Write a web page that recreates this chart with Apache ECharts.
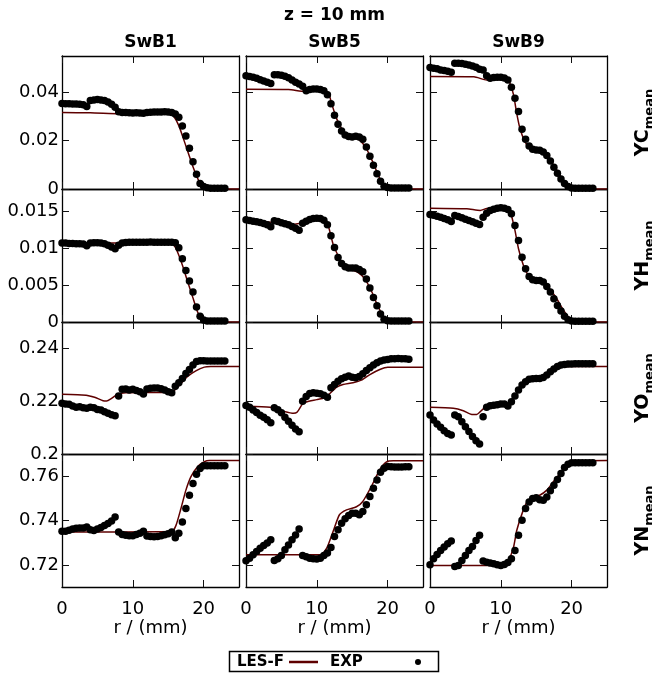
<!DOCTYPE html>
<html><head><meta charset="utf-8">
<script src="https://cdn.jsdelivr.net/npm/echarts@6/dist/echarts.min.js"></script>
<style>html,body{margin:0;padding:0;background:#fff}#c{width:652px;height:673px}</style>
</head><body><div id="c"></div>
<script>
// ---------- data ----------
const CASES = ['SwB1', 'SwB5', 'SwB9'];
const QUANTITIES = ['YC', 'YH', 'YO', 'YN'];
const X_TICKS = [0, 10, 20];
const Y_RANGES = [[0, 0.055], [0, 0.018], [0.2, 0.25], [0.71, 0.77]];
const Y_TICKS = [[0, 0.02, 0.04], [0, 0.005, 0.01, 0.015], [0.2, 0.22, 0.24], [0.72, 0.74, 0.76]];

const R_EXP = [0,0.5,1,1.5,2,2.5,3,3.5, 4,4.5,5,5.5,6,6.5,7,7.5, 8,8.5,9,9.5,10,10.5,11,11.5,
  12,12.5,13,13.5,14,14.5,15,15.5, 16,16.5,17,17.5,18,18.5,19,19.5, 20,20.5,21,21.5,22,22.5,23];

const YC_SWB1_EXP = [
0.0354,0.0353,0.0353,0.0352,0.0352,0.0350,0.0348,0.0341,
0.0366,0.0368,0.0370,0.0368,0.0366,0.0360,0.0350,0.0338,
0.0319,0.0316,0.0316,0.0315,0.0314,0.0315,0.0314,0.0313,
0.0316,0.0317,0.0318,0.0318,0.0318,0.0319,0.0318,0.0316,
0.0310,0.0297,0.0261,0.0219,0.0168,0.0113,0.0061,0.0023,
0.0010,0.0005,0.0003,0.0003,0.0003,0.0003,0.0003];
const YH_SWB1_EXP = [
0.01068,0.01068,0.01063,0.01063,0.01059,0.01059,0.01054,0.01032,
0.01068,0.01072,0.01072,0.01068,0.01059,0.01040,0.01014,0.00991,
0.01040,0.01068,0.01077,0.01081,0.01081,0.01081,0.01080,0.01081,
0.01081,0.01082,0.01081,0.01081,0.01081,0.01080,0.01081,0.01081,
0.01072,0.01005,0.00856,0.00698,0.00554,0.00405,0.00203,0.00077,
0.00027,0.00014,0.00014,0.00014,0.00014,0.00014,0.00014];
const YO_SWB1_EXP = [
0.2192,0.2189,0.2188,0.2182,0.2177,0.2179,0.2175,0.2173,
0.2177,0.2175,0.2169,0.2167,0.2160,0.2154,0.2149,0.2145,
0.2220,0.2245,0.2246,0.2242,0.2245,0.2241,0.2236,0.2227,
0.2246,0.2249,0.2250,0.2250,0.2247,0.2242,0.2236,0.2232,
0.2257,0.2270,0.2286,0.2305,0.2320,0.2337,0.2350,0.2353,
0.2353,0.2352,0.2352,0.2352,0.2352,0.2352,0.2352];
const YN_SWB1_EXP = [
0.7351,0.7351,0.7356,0.7362,0.7365,0.7366,0.7366,0.7371,
0.7358,0.7355,0.7362,0.7368,0.7378,0.7386,0.7398,0.7416,
0.7348,0.7337,0.7333,0.7331,0.7331,0.7337,0.7343,0.7351,
0.7330,0.7328,0.7327,0.7328,0.7331,0.7336,0.7340,0.7348,
0.7322,0.7343,0.7393,0.7454,0.7514,0.7567,0.7609,0.7635,
0.7647,0.7647,0.7647,0.7647,0.7647,0.7647,0.7647];

const YC_SWB5_EXP = [
0.0468,0.0465,0.0462,0.0458,0.0452,0.0447,0.0441,0.0436,
0.0472,0.0472,0.0470,0.0466,0.0460,0.0451,0.0441,0.0434,
0.0425,0.0406,0.0411,0.0414,0.0414,0.0411,0.0406,0.0390,
0.0353,0.0305,0.0268,0.0240,0.0223,0.0217,0.0215,0.0218,
0.0215,0.0206,0.0174,0.0135,0.0098,0.0063,0.0032,0.0011,
0.0006,0.0004,0.0004,0.0004,0.0004,0.0004,0.0004];
const YH_SWB5_EXP = [
0.01383,0.01374,0.01365,0.01356,0.01347,0.01333,0.01315,0.01288,
0.01369,0.01360,0.01342,0.01329,0.01315,0.01293,0.01270,0.01243,
0.01338,0.01365,0.01387,0.01401,0.01405,0.01401,0.01378,0.01315,
0.01167,0.01009,0.00874,0.00793,0.00748,0.00730,0.00730,0.00730,
0.00712,0.00680,0.00581,0.00459,0.00333,0.00221,0.00108,0.00036,
0.00018,0.00014,0.00014,0.00014,0.00014,0.00014,0.00014];
const YO_SWB5_EXP = [
0.2184,0.2177,0.2167,0.2157,0.2147,0.2139,0.2130,0.2118,
0.2175,0.2168,0.2156,0.2139,0.2124,0.2109,0.2095,0.2084,
0.2200,0.2218,0.2229,0.2232,0.2230,0.2228,0.2223,0.2215,
0.2251,0.2263,0.2276,0.2285,0.2291,0.2295,0.2291,0.2289,
0.2294,0.2304,0.2316,0.2327,0.2337,0.2346,0.2352,0.2356,
0.2358,0.2361,0.2361,0.2362,0.2361,0.2361,0.2359];
const YN_SWB5_EXP = [
0.7218,0.7230,0.7245,0.7260,0.7275,0.7287,0.7298,0.7313,
0.7220,0.7227,0.7242,0.7268,0.7290,0.7313,0.7335,0.7362,
0.7242,0.7236,0.7230,0.7227,0.7226,0.7230,0.7242,0.7253,
0.7278,0.7328,0.7358,0.7388,0.7408,0.7423,0.7433,0.7433,
0.7426,0.7441,0.7471,0.7508,0.7546,0.7583,0.7618,0.7636,
0.7644,0.7643,0.7641,0.7641,0.7641,0.7642,0.7642];

const YC_SWB9_EXP = [
0.0502,0.0499,0.0497,0.0492,0.0490,0.0487,0.0483,0.0520,
0.0520,0.0519,0.0516,0.0513,0.0509,0.0503,0.0495,0.0492,
0.0468,0.0458,0.0461,0.0462,0.0462,0.0459,0.0451,0.0421,
0.0375,0.0320,0.0247,0.0206,0.0178,0.0164,0.0161,0.0160,
0.0153,0.0139,0.0116,0.0090,0.0065,0.0041,0.0023,0.0010,
0.0004,0.0003,0.0003,0.0003,0.0003,0.0003,0.0003];
const YH_SWB9_EXP = [
0.01455,0.01446,0.01432,0.01419,0.01401,0.01383,0.01360,0.01441,
0.01428,0.01410,0.01392,0.01374,0.01356,0.01338,0.01320,0.01419,
0.01473,0.01509,0.01527,0.01540,0.01545,0.01540,0.01523,0.01464,
0.01306,0.01104,0.00878,0.00721,0.00617,0.00572,0.00563,0.00563,
0.00541,0.00482,0.00405,0.00315,0.00225,0.00149,0.00077,0.00032,
0.00014,0.00010,0.00010,0.00010,0.00010,0.00010,0.00010];
const YO_SWB9_EXP = [
0.2148,0.2129,0.2114,0.2101,0.2088,0.2078,0.2072,0.2148,
0.2141,0.2122,0.2103,0.2085,0.2066,0.2050,0.2038,0.2141,
0.2177,0.2183,0.2185,0.2187,0.2189,0.2189,0.2182,0.2198,
0.2220,0.2242,0.2261,0.2274,0.2283,0.2285,0.2286,0.2286,
0.2290,0.2299,0.2312,0.2322,0.2331,0.2337,0.2339,0.2341,
0.2341,0.2342,0.2342,0.2342,0.2342,0.2342,0.2342];
const YN_SWB9_EXP = [
0.7200,0.7227,0.7247,0.7265,0.7280,0.7295,0.7307,0.7192,
0.7197,0.7220,0.7242,0.7265,0.7283,0.7310,0.7333,0.7217,
0.7212,0.7208,0.7205,0.7200,0.7197,0.7202,0.7211,0.7227,
0.7265,0.7333,0.7401,0.7454,0.7484,0.7499,0.7503,0.7494,
0.7491,0.7506,0.7534,0.7559,0.7585,0.7612,0.7639,0.7654,
0.7660,0.7660,0.7660,0.7660,0.7660,0.7660,0.7660];

// LES-F simulation curves: [r, value]
const LES_YC_SWB1 = [[0,0.0316],[4,0.0315],[8,0.0311],[15.3,0.0310],[15.8,0.0300],[16.5,0.0262],[17.5,0.0178],[18.5,0.0092],[19.3,0.0035],[19.9,0.0008],[20.5,0.0001],[25,0]];
const LES_YH_SWB1 = [[0,0.0107],[15.3,0.0107],[15.8,0.0104],[16.3,0.0095],[17,0.0077],[17.7,0.0056],[18.45,0.0034],[19.15,0.00135],[19.9,0.0002],[20.6,0],[25,0]];
const LES_YO_SWB1 = [[0,0.2226],[3.4,0.2223],[4.6,0.2215],[5.8,0.2202],[6.3,0.2201],[7,0.2211],[7.9,0.2227],[9,0.2232],[15.4,0.2233],[16.6,0.2261],[17.7,0.2293],[18.9,0.2315],[20.1,0.2329],[21,0.2331],[25,0.2331]];
const LES_YN_SWB1 = [[0,0.7348],[15.5,0.7350],[16.1,0.7378],[16.8,0.7454],[17.5,0.7537],[18.2,0.7597],[19.15,0.7642],[20.1,0.7665],[20.8,0.7671],[25,0.7671]];

const LES_YC_SWB5 = [[0,0.0412],[6,0.0411],[8.3,0.0404],[11.4,0.0404],[11.7,0.0395],[12.1,0.0353],[12.8,0.0291],[13.5,0.0250],[14.2,0.0226],[15.1,0.0215],[16.1,0.0201],[17,0.0167],[17.9,0.0112],[18.9,0.0043],[19.6,0.0008],[20,0],[25,0]];
const LES_YH_SWB5 = [[0,0.01378],[4,0.01347],[6.9,0.01324],[8.2,0.0135],[9.2,0.01378],[10.2,0.0139],[11,0.01375],[11.6,0.01305],[12.3,0.01054],[13,0.0090],[13.7,0.00784],[14.6,0.00716],[15.8,0.00671],[16.8,0.00581],[17.7,0.00423],[18.6,0.0022],[19.6,0.0004],[20,0],[25,0]];
const LES_YO_SWB5 = [[0,0.2181],[3.4,0.2177],[5.3,0.2162],[6.7,0.2154],[7.2,0.2158],[8,0.2190],[8.5,0.2197],[10,0.2206],[11.1,0.2213],[11.8,0.2228],[12.8,0.2253],[13.7,0.2263],[15.1,0.2270],[16.3,0.2280],[17.5,0.2301],[18.9,0.2320],[20,0.2329],[25,0.2329]];
const LES_YN_SWB5 = [[0,0.7245],[10.5,0.7245],[11.4,0.7275],[12.3,0.7350],[13.2,0.7426],[14.2,0.7448],[15.6,0.7462],[16.5,0.7486],[17.7,0.7553],[18.9,0.7629],[19.8,0.7663],[20.8,0.7669],[25,0.7669]];

const LES_YC_SWB9 = [[0,0.0465],[6.2,0.0464],[8,0.0451],[10.8,0.0454],[11.3,0.0437],[11.8,0.0389],[12.25,0.0313],[12.7,0.0251],[13.4,0.0196],[14.1,0.0171],[15.1,0.0159],[16,0.0150],[16.9,0.0123],[17.9,0.0079],[18.8,0.0037],[19.8,0.0007],[20.2,0],[25,0]];
const LES_YH_SWB9 = [[0,0.0154],[5.2,0.01532],[7.1,0.0151],[8,0.01536],[9.9,0.01545],[11.1,0.01532],[11.5,0.01441],[12,0.01239],[12.5,0.00991],[13.2,0.00766],[13.9,0.0063],[14.8,0.00563],[16,0.00527],[16.9,0.0045],[17.9,0.00315],[18.8,0.00167],[19.8,0.00041],[20.5,0],[25,0]];
const LES_YO_SWB9 = [[0,0.2177],[3.3,0.2173],[4.7,0.2164],[5.9,0.2150],[6.6,0.2150],[7.6,0.2173],[8.5,0.2186],[9.9,0.2189],[11.1,0.2189],[11.8,0.2211],[12.5,0.2242],[13.4,0.2268],[14.6,0.2283],[15.8,0.2286],[16.9,0.2305],[18.4,0.2327],[19.8,0.2331],[25,0.2331]];
const LES_YN_SWB9 = [[0,0.7197],[10.5,0.7197],[11.1,0.7220],[11.8,0.7280],[12.25,0.7355],[13,0.7431],[13.7,0.7484],[14.6,0.7506],[15.5,0.7514],[16.5,0.7537],[17.4,0.7574],[18.4,0.7612],[19.3,0.7650],[20.2,0.7668],[25,0.7671]];

const EXP = [
  [YC_SWB1_EXP, YC_SWB5_EXP, YC_SWB9_EXP],
  [YH_SWB1_EXP, YH_SWB5_EXP, YH_SWB9_EXP],
  [YO_SWB1_EXP, YO_SWB5_EXP, YO_SWB9_EXP],
  [YN_SWB1_EXP, YN_SWB5_EXP, YN_SWB9_EXP]];
const LES = [
  [LES_YC_SWB1, LES_YC_SWB5, LES_YC_SWB9],
  [LES_YH_SWB1, LES_YH_SWB5, LES_YH_SWB9],
  [LES_YO_SWB1, LES_YO_SWB5, LES_YO_SWB9],
  [LES_YN_SWB1, LES_YN_SWB5, LES_YN_SWB9]];

// ---------- chart ----------
const FONT = 'DejaVu Sans';
const LES_COLOR = '#5e0000';
const chart = echarts.init(document.getElementById('c'), null, {renderer: 'canvas'});
const colLeft = [62, 246, 430], W = 177;
const rowTop = [56, 189, 322, 454], rowH = [133, 133, 132, 133];
const grids = [], xAxes = [], yAxes = [], series = [];
const fmt = v => String(+(+v).toFixed(4));

for (let r = 0; r < 4; r++) {
  for (let c = 0; c < 3; c++) {
    const gi = grids.length;
    grids.push({left: colLeft[c], top: rowTop[r], width: W, height: rowH[r]});
    const line = {show: true, onZero: false, lineStyle: {color: '#000', width: 1.3}};
    const tick = vals => ({show: true, inside: true, length: 7, customValues: vals, lineStyle: {color: '#111', width: 1}});
    xAxes.push({type: 'value', gridIndex: gi, position: 'bottom', min: 0, max: 25,
      axisLine: line, axisTick: tick(X_TICKS), splitLine: {show: false},
      axisLabel: {show: r === 3, customValues: X_TICKS, fontFamily: FONT, fontSize: 18, color: '#000', margin: 13, formatter: fmt},
      name: r === 3 ? 'r / (mm)' : '', nameLocation: 'middle', nameGap: 31,
      nameTextStyle: {fontFamily: FONT, fontSize: 18, color: '#000'}});
    xAxes.push({type: 'value', gridIndex: gi, position: 'top', min: 0, max: 25,
      axisLine: line, axisTick: tick(X_TICKS), splitLine: {show: false}, axisLabel: {show: false}});
    yAxes.push({type: 'value', gridIndex: gi, position: 'left', min: Y_RANGES[r][0], max: Y_RANGES[r][1],
      axisLine: line, axisTick: tick(Y_TICKS[r]), splitLine: {show: false},
      axisLabel: {show: c === 0, customValues: Y_TICKS[r], fontFamily: FONT, fontSize: 18, color: '#000', margin: 3, formatter: fmt}});
    yAxes.push({type: 'value', gridIndex: gi, position: 'right', min: Y_RANGES[r][0], max: Y_RANGES[r][1],
      axisLine: line, axisTick: tick(Y_TICKS[r]), splitLine: {show: false}, axisLabel: {show: false}});
    series.push({type: 'line', name: 'LES-F', xAxisIndex: 2 * gi, yAxisIndex: 2 * gi,
      data: LES[r][c], symbol: 'none', smooth: 0.2, lineStyle: {color: LES_COLOR, width: 1.5}, z: 2, animation: false});
    series.push({type: 'scatter', name: 'EXP', xAxisIndex: 2 * gi, yAxisIndex: 2 * gi,
      data: R_EXP.map((x, i) => [x, EXP[r][c][i]]), symbol: 'circle', symbolSize: 7.5,
      itemStyle: {color: '#000', opacity: 1}, emphasis: {disabled: true}, z: 3, animation: false});
  }
}

const graphic = [];
graphic.push({type: 'text', x: 334.5, y: 16, style: {text: 'z = 10 mm', font: 'bold 17px "DejaVu Sans"', fill: '#000', align: 'center', verticalAlign: 'middle'}});
for (let c = 0; c < 3; c++) {
  graphic.push({type: 'text', x: colLeft[c] + W / 2, y: 43, style: {text: CASES[c], font: 'bold 17px "DejaVu Sans"', fill: '#000', align: 'center', verticalAlign: 'middle'}});
}
for (let r = 0; r < 4; r++) {
  graphic.push({type: 'text', x: 643, y: rowTop[r] + rowH[r] / 2, rotation: Math.PI / 2,
    style: {text: '{a|' + QUANTITIES[r] + '}{b|mean}', align: 'center', verticalAlign: 'middle', fill: '#000',
      rich: {a: {fontFamily: FONT, fontWeight: 'bold', fontSize: 19, lineHeight: 26, fill: '#000'},
             b: {fontFamily: FONT, fontWeight: 'bold', fontSize: 13, lineHeight: 12, verticalAlign: 'bottom', fill: '#000'}}}});
}
// legend box
graphic.push({type: 'rect', shape: {x: 229.5, y: 651.5, width: 209, height: 20}, style: {fill: '#fff', stroke: '#000', lineWidth: 1.5}});
graphic.push({type: 'text', x: 237, y: 662, style: {text: 'LES-F', font: 'bold 15px "DejaVu Sans"', fill: '#000', align: 'left', verticalAlign: 'middle'}});
graphic.push({type: 'line', shape: {x1: 289, y1: 662, x2: 318, y2: 662}, style: {stroke: LES_COLOR, lineWidth: 2.5}});
graphic.push({type: 'text', x: 330, y: 662, style: {text: 'EXP', font: 'bold 15px "DejaVu Sans"', fill: '#000', align: 'left', verticalAlign: 'middle'}});
graphic.push({type: 'circle', shape: {cx: 418, cy: 662, r: 3}, style: {fill: '#000'}});

chart.setOption({
  animation: false,
  backgroundColor: '#fff',
  textStyle: {fontFamily: FONT},
  grid: grids, xAxis: xAxes, yAxis: yAxes, series: series, graphic: graphic
});
</script></body></html>
